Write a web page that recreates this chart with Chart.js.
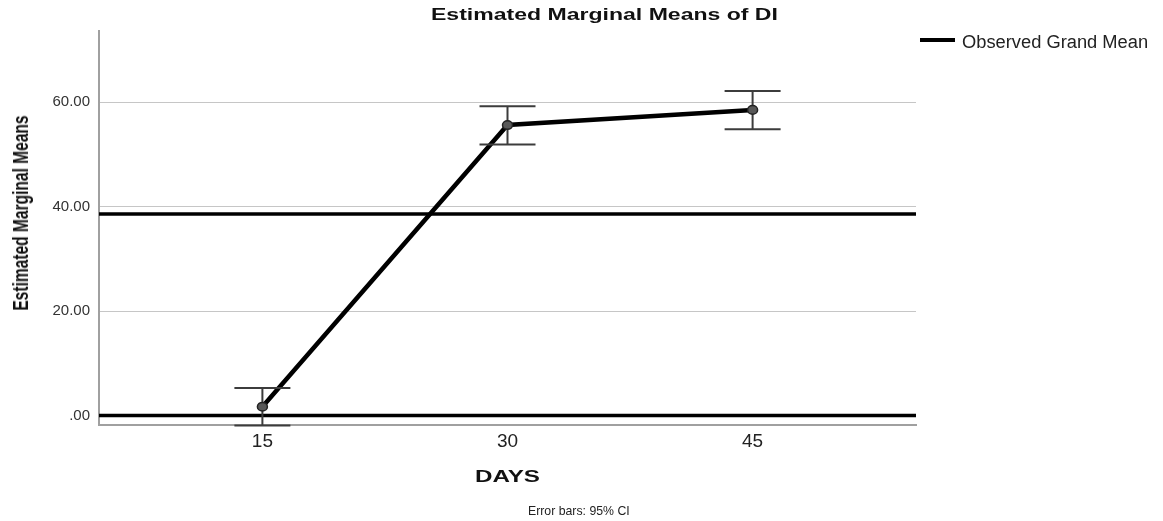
<!DOCTYPE html>
<html>
<head>
<meta charset="utf-8">
<script src="https://cdn.jsdelivr.net/npm/chart.js@4.4.1/dist/chart.umd.min.js"></script>
<style>
  html, body { margin: 0; padding: 0; background: #fff; }
  #wrap { position: relative; width: 1163px; height: 521px; overflow: hidden; font-family: "Liberation Sans", Arial, sans-serif; }
  #chart { position: absolute; left: 0; top: 0; }
  .txt { position: absolute; white-space: nowrap; line-height: 1; color: #111; transform-origin: 0 0; display: inline-block; }
  .title { left: 431px; top: 7px; font-size: 16px; font-weight: bold; }
  .legend-text { left: 962px; top: 33px; font-size: 18px; color: #222; }
  .swatch { position: absolute; left: 920px; top: 37.5px; width: 35px; height: 4px; background: #000; }
  .xtitle { left: 475px; top: 468.5px; font-size: 16px; font-weight: bold; }
  .note { left: 528px; top: 504px; font-size: 13px; color: #222; }
  .ytitle { position: absolute; left: 21px; top: 212.5px; white-space: nowrap; line-height: 1; font-size: 22px; font-weight: bold; color: #111; }
</style>
</head>
<body>
<div id="wrap">
  <canvas id="chart" width="1163" height="521"></canvas>
  <span class="txt title" data-w="347">Estimated Marginal Means of DI</span>
  <span class="swatch"></span>
  <span class="txt legend-text" data-w="186">Observed Grand Mean</span>
  <span class="txt xtitle" data-w="65">DAYS</span>
  <span class="txt note" data-w="102">Error bars: 95% CI</span>
  <span class="ytitle" id="ytitle">Estimated Marginal Means</span>
</div>
<script>
  const days = [15, 30, 45];
  const means = [1.7, 55.6, 58.5];
  const ciLower = [-1.9, 51.9, 54.8];
  const ciUpper = [5.3, 59.2, 62.1];
  const grandMean = 38.6;
  const zeroLine = 0;
  const yTicks = [0, 20, 40, 60];
  const xMin = 5;
  const xMax = 55;
  const yMin = -1.8;
  const yMax = 73.6;

  const formatTick = (v) => (v === 0 ? '.00' : v.toFixed(2));

  // squeeze/stretch the html labels to the widths seen in the picture
  document.querySelectorAll('.txt[data-w]').forEach((el) => {
    const target = Number(el.dataset.w);
    el.style.transform = `scaleX(${target / el.offsetWidth})`;
  });
  const yt = document.getElementById('ytitle');
  yt.style.transform = `translate(-50%, -50%) rotate(-90deg) scaleX(${195 / yt.offsetWidth})`;

  const errorBars = {
    id: 'errorBars',
    afterDatasetsDraw(chart) {
      const { ctx, scales } = chart;
      const capHalf = 28;
      ctx.save();
      ctx.strokeStyle = '#3c3c3c';
      ctx.lineWidth = 2;
      days.forEach((d, i) => {
        const x = scales.x.getPixelForValue(d);
        const lo = scales.y.getPixelForValue(ciLower[i]);
        const hi = scales.y.getPixelForValue(ciUpper[i]);
        ctx.beginPath();
        ctx.moveTo(x, lo);
        ctx.lineTo(x, hi);
        ctx.moveTo(x - capHalf, lo);
        ctx.lineTo(x + capHalf, lo);
        ctx.moveTo(x - capHalf, hi);
        ctx.lineTo(x + capHalf, hi);
        ctx.stroke();
      });
      days.forEach((d, i) => {
        const x = scales.x.getPixelForValue(d);
        const y = scales.y.getPixelForValue(means[i]);
        ctx.beginPath();
        ctx.ellipse(x, y, 5, 4.3, 0, 0, Math.PI * 2);
        ctx.fillStyle = '#585858';
        ctx.fill();
        ctx.lineWidth = 1.5;
        ctx.strokeStyle = '#222';
        ctx.stroke();
      });
      ctx.restore();
    }
  };

  new Chart(document.getElementById('chart'), {
    type: 'line',
    data: {
      datasets: [
        {
          label: 'Observed Grand Mean',
          data: [{ x: xMin, y: grandMean }, { x: xMax, y: grandMean }],
          borderColor: '#000',
          borderWidth: 3.5,
          pointRadius: 0
        },
        {
          label: 'zero',
          data: [{ x: xMin, y: zeroLine }, { x: xMax, y: zeroLine }],
          borderColor: '#000',
          borderWidth: 3.5,
          pointRadius: 0
        },
        {
          label: 'DI',
          data: days.map((d, i) => ({ x: d, y: means[i] })),
          borderColor: '#000',
          borderWidth: 4.5,
          pointRadius: 0
        }
      ]
    },
    options: {
      responsive: false,
      animation: false,
      layout: { padding: { left: 0, right: 247, top: 31, bottom: 0 } },
      plugins: {
        legend: { display: false },
        tooltip: { enabled: false },
        title: { display: false }
      },
      scales: {
        x: {
          type: 'linear',
          min: xMin,
          max: xMax,
          afterBuildTicks: (axis) => { axis.ticks = days.map((v) => ({ value: v })); },
          afterFit: (axis) => { axis.height = 96; },
          grid: { display: false, drawTicks: false },
          border: { color: '#a0a0a0', width: 2 },
          ticks: {
            padding: 5,
            color: '#222',
            font: { family: 'Liberation Sans', size: 19 },
            maxRotation: 0
          }
        },
        y: {
          min: yMin,
          max: yMax,
          afterBuildTicks: (axis) => { axis.ticks = yTicks.map((v) => ({ value: v })); },
          afterFit: (axis) => { axis.width = 99; },
          grid: { color: '#c6c6c6', lineWidth: 1, drawTicks: false },
          border: { color: '#a0a0a0', width: 2 },
          ticks: {
            padding: 9,
            color: '#333',
            font: { family: 'Liberation Sans', size: 15 },
            callback: (v) => formatTick(v)
          }
        }
      }
    },
    plugins: [errorBars]
  });
</script>
</body>
</html>
